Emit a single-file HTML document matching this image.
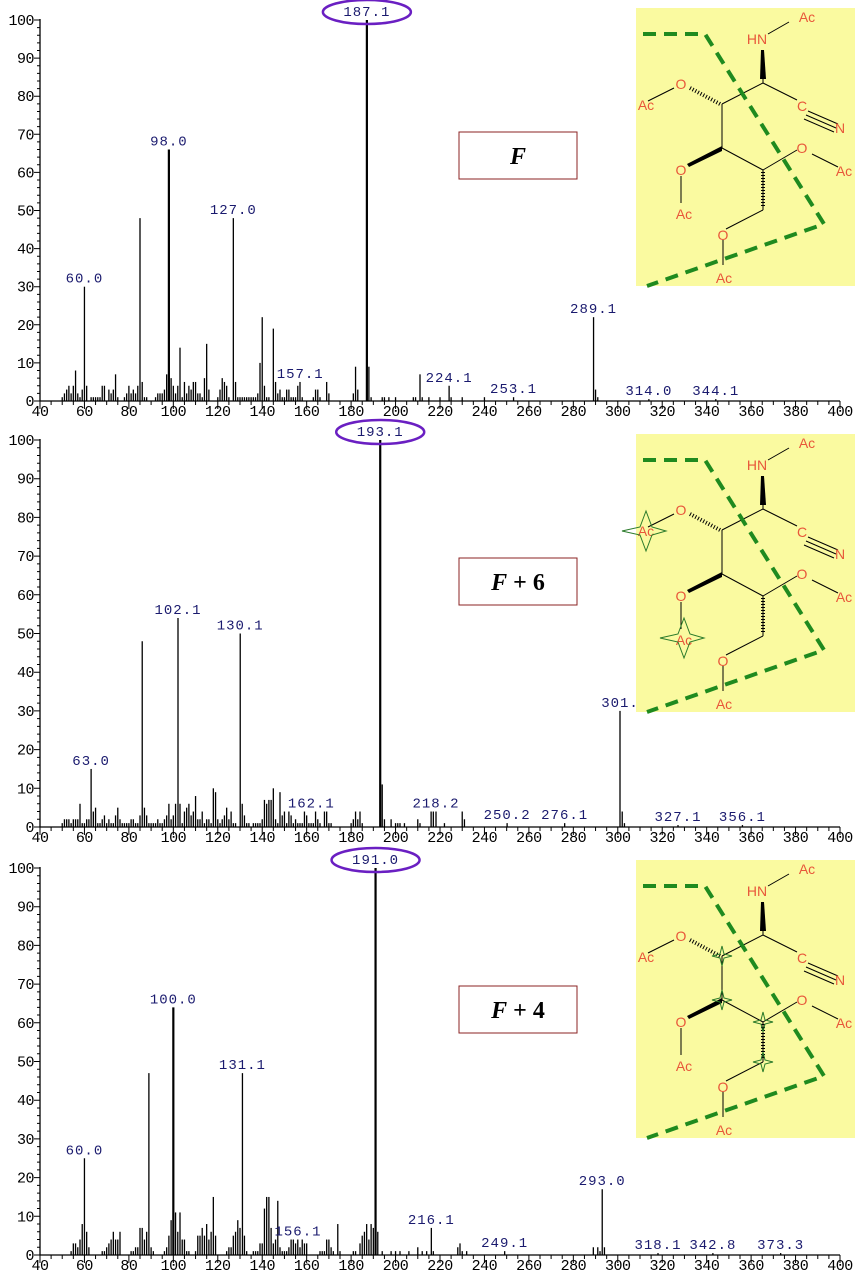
<!DOCTYPE html>
<html><head><meta charset="utf-8">
<style>
html,body{margin:0;padding:0;background:#fff;}
svg{display:block;}
.tk{font-family:"Liberation Mono",monospace;font-size:15px;fill:#000;letter-spacing:-0.5px;}
.pl{font-family:"Liberation Mono",monospace;font-size:14px;fill:#1a1a6e;letter-spacing:1px;}
.at{font-family:"Liberation Sans",sans-serif;font-size:14px;fill:#e8573a;}
</style></head>
<body>
<svg id="chart" width="865" height="1280" viewBox="0 0 865 1280" xmlns="http://www.w3.org/2000/svg"></svg>
<script>
// ---- data ----
const xTicks = [40,60,80,100,120,140,160,180,200,220,240,260,280,300,320,340,360,380,400];
const yTicks = [0,10,20,30,40,50,60,70,80,90,100];
const panelNames = ["F","F + 6","F + 4"];
// panel 1 peaks [m/z, intensity]
const peaksF = [[50,1],[51,2],[52,3],[53,4],[54,2],[55,4],[56,8],[57,2],[58,1],[59,3],[60,30],[61,4],[63,1],[64,1],[65,1],[66,1],[67,1],[68,4],[69,4],[71,3],[72,2],[73,3],[74,7],[75,1],[78,1],[79,2],[80,4],[81,2],[82,3],[83,2],[84,4],[85,48],[86,5],[87,1],[88,1],[92,1],[93,2],[94,2],[95,2],[96,3],[97,7],[98,66],[99,6],[100,4],[101,2],[102,4],[103,14],[104,1],[105,5],[106,2],[107,4],[108,3],[109,5],[110,5],[111,2],[112,2],[113,1],[114,6],[115,15],[116,3],[120,1],[121,3],[122,6],[123,5],[124,4],[125,1],[127,48],[128,5],[129,1],[130,1],[131,1],[132,1],[133,1],[134,1],[135,1],[136,1],[137,1],[138,2],[139,10],[140,22],[141,4],[142,1],[143,1],[145,19],[146,5],[147,2],[148,3],[149,1],[150,1],[151,3],[152,3],[153,1],[154,1],[155,1],[156,4],[157,5],[158,1],[163,1],[164,3],[165,3],[166,1],[169,5],[170,2],[181,2],[182,9],[183,3],[187.1,100],[188,9],[189,1],[194,1],[195,1],[197,1],[200,1],[208,1],[209,1],[211,7],[212,1],[215,1],[220,1],[224.1,4],[225,1],[230,1],[240,1],[253.1,1],[289.1,22],[290,3],[291,1],[314,0.5],[344.1,0.5]];
const labelsF = [[60,"60.0",30],[98,"98.0",66],[127,"127.0",48],[157.1,"157.1",5],[187.1,"187.1",100],[224.1,"224.1",4],[253.1,"253.1",1],[289.1,"289.1",22],[314,"314.0",0.5],[344.1,"344.1",0.5]];
const peaksF6 = [[50,1],[51,2],[52,2],[53,2],[54,1],[55,2],[56,2],[57,2],[58,6],[59,1],[60,1],[61,2],[62,2],[63,15],[64,4],[65,5],[66,1],[67,1],[68,2],[69,3],[70,1],[71,2],[72,1],[73,1],[74,3],[75,5],[76,2],[77,1],[78,1],[79,1],[80,1],[81,2],[82,2],[83,1],[84,1],[85,3],[86,48],[87,5],[88,3],[89,1],[90,1],[91,1],[92,1],[93,2],[94,1],[95,1],[96,2],[97,3],[98,6],[99,2],[100,3],[101,6],[102.1,54],[103,6],[104,1],[105,4],[106,5],[107,6],[108,3],[109,4],[110,8],[111,2],[112,2],[113,4],[114,1],[115,2],[116,2],[117,1],[118,10],[119,9],[120,2],[121,1],[122,2],[123,3],[124,5],[125,2],[126,4],[127,1],[128,1],[130.1,50],[131,6],[132,3],[133,1],[134,1],[136,1],[137,1],[138,1],[139,1],[140,2],[141,7],[142,6],[143,7],[144,7],[145,10],[146,2],[147,1],[148,9],[149,3],[150,4],[151,1],[152,4],[153,3],[154,1],[155,2],[156,1],[157,1],[158,1],[159,4],[160,3],[161,1],[162,1],[163,1],[164,4],[165,2],[166,1],[168,4],[169,4],[170,1],[171,1],[180,1],[181,2],[182,4],[183,2],[184,4],[185,1],[193.1,100],[194,11],[195,2],[198,2],[200,1],[201,1],[202,1],[204,1],[210,2],[211,1],[216,4],[217,4],[218.2,4],[222,1],[230,4],[231,2],[250.2,1],[276.1,1],[301,30],[302,4],[303,1],[327.1,0.5],[356.1,0.5]];
const labelsF6 = [[63,"63.0",15],[102.1,"102.1",54],[130.1,"130.1",50],[162.1,"162.1",4],[193.1,"193.1",100],[218.2,"218.2",4],[250.2,"250.2",1],[276.1,"276.1",1],[301,"301.",30],[327.1,"327.1",0.5],[356.1,"356.1",0.5]];
const peaksF4 = [[54,1],[55,3],[56,3],[57,2],[58,4],[59,8],[60,25],[61,6],[62,2],[68,1],[69,1],[70,2],[71,3],[72,4],[73,6],[74,4],[75,4],[76,6],[81,1],[82,1],[83,2],[84,2],[85,7],[86,7],[87,4],[88,6],[89,47],[90,2],[91,1],[96,1],[97,2],[98,5],[99,9],[100,64],[101,11],[102,6],[103,11],[104,4],[105,4],[106,1],[107,1],[110,1],[111,5],[112,5],[113,7],[114,5],[115,8],[116,4],[117,6],[118,15],[119,5],[124,1],[125,2],[126,2],[127,5],[128,6],[129,9],[130,7],[131.1,47],[132,5],[133,1],[136,1],[137,1],[138,1],[139,3],[140,3],[141,12],[142,15],[143,15],[144,7],[145,3],[146,4],[147,14],[148,2],[149,1],[150,1],[151,1],[152,2],[153,4],[154,4],[155,3],[156,4],[157,2],[158,4],[159,3],[160,3],[166,1],[167,1],[168,1],[169,4],[170,4],[171,2],[172,1],[174,8],[175,1],[181,1],[182,1],[184,3],[185,5],[186,6],[187,8],[188,4],[189,8],[190,7],[191,100],[192,6],[194,1],[198,1],[200,1],[202,1],[206,1],[210,2],[212,1],[214,1],[216.1,7],[217,1],[228,2],[229,3],[230,1],[232,1],[249.1,1],[289,2],[291,2],[292,1],[293,17],[294,2],[318.1,0.5],[342.8,0.5],[373.3,0.5]];
const labelsF4 = [[60,"60.0",25],[100,"100.0",64],[131.1,"131.1",47],[156.1,"156.1",4],[191,"191.0",100],[216.1,"216.1",7],[249.1,"249.1",1],[293,"293.0",17],[318.1,"318.1",0.5],[342.8,"342.8",0.5],[373.3,"373.3",0.5]];
const panelPeaks = [peaksF, peaksF6, peaksF4];
const panelLabels = [labelsF, labelsF6, labelsF4];
const basePeaks = [187.1, 193.1, 191];

const NS = "http://www.w3.org/2000/svg";
const svg = document.getElementById("chart");
function mk(tag, attrs, parent){const e=document.createElementNS(NS,tag);for(const k in attrs)e.setAttribute(k,attrs[k]);(parent||svg).appendChild(e);return e;}

const X0=40, X1=840, MZ0=40, MZ1=400;
const panels=[{top:20,bot:401},{top:440,bot:827},{top:868,bot:1255}];
function xs(mz){return X0+(mz-MZ0)*(X1-X0)/(MZ1-MZ0);}

panels.forEach((p,pi)=>{
  const ys=v=>p.bot-v*(p.bot-p.top)/100;
  const g=mk("g",{});
  
  
  const ax=mk("path",{d:`M${X0} ${p.top-1}V${p.bot}H${X1}`,stroke:"#000","stroke-width":1.3,fill:"none"},g);
  
  
  let d="";
  for(let v=0;v<=100;v+=2){const y=ys(v);d+=`M${X0-(v%10==0?6:3)} ${y}H${X0}`;}
  for(let m=MZ0;m<=MZ1;m+=5){const x=xs(m);d+=`M${x} ${p.bot}V${p.bot+(m%20==0?8:4)}`;}
  const tk=mk("path",{d:d,stroke:"#000","stroke-width":1},g);
  
  
  yTicks.forEach(v=>{const t=mk("text",{x:34,y:ys(v)+5,"text-anchor":"end",class:"tk"},g);t.textContent=v;
    
    });
  xTicks.forEach(v=>{const t=mk("text",{x:xs(v),y:p.bot+15,"text-anchor":"middle",class:"tk"},g);t.textContent=v;
    
    });
  panelPeaks[pi].forEach(pk=>{
    const l=mk("line",{x1:xs(pk[0]),x2:xs(pk[0]),y1:p.bot,y2:ys(pk[1]),stroke:"#000","stroke-width":pk[1]>=60?2.2:1.3},g);
    
    
  });
  panelLabels[pi].forEach(lb=>{
    const t=mk("text",{x:xs(lb[0]),y:ys(lb[2])-4,"text-anchor":"middle",class:"pl"},g);
    t.textContent=lb[1];
    
    
  });
  const bp=basePeaks[pi];
  const el=mk("ellipse",{cx:xs(bp),cy:p.top-8,rx:44,ry:12,fill:"none",stroke:"#6a1fc2","stroke-width":2.5},g);
  
  
  const bt=[132,558,986][pi];
  const r=mk("rect",{x:459,y:bt,width:118,height:47,fill:"#fff",stroke:"#8b2323","stroke-width":1},g);
  
  
  const tt=mk("text",{x:518,y:bt+32,"text-anchor":"middle","font-family":"Liberation Serif, serif","font-size":24,"font-weight":"bold",fill:"#000"},g);
  
  
  const parts=panelNames[pi].split(" + ");
  const ts=mk("tspan",{"font-style":"italic"},tt);ts.textContent=parts[0];
  if(parts[1]){const t2=mk("tspan",{},tt);t2.textContent=" + "+parts[1];}
  const dy=[0,426,852][pi];
  const s=mk("g",{transform:`translate(0,${dy})`},g);
  
  
  mk("rect",{x:636,y:8,width:219,height:278,fill:"#fafaa0"},s);
  const bonds="M763 83L763 56M768 34L789 22M763 83L722 104M763 83L797 100M808 111L838 124M806 115L836 128M804 119L834 132M722 104L722 148M722 148L763 170M763 170L797 150M812 154L838 167M763 170L763 210M763 210L726 229M723 240L723 265M681 176L681 203M674 88L648 101";
  mk("path",{d:bonds,stroke:"#000","stroke-width":1,fill:"none"},s);
  mk("path",{d:"M760 79L766 79L764 50L761 50Z",fill:"#000"},s);
  mk("path",{d:"M722 146L722 151L689 167L687 164Z",fill:"#000"},s);
  mk("path",{d:"M720 104L690 88",stroke:"#000","stroke-width":4,"stroke-dasharray":"1 2",fill:"none"},s);
  mk("path",{d:"M763 172L763 206",stroke:"#000","stroke-width":4,"stroke-dasharray":"1 2",fill:"none"},s);
  const atoms=[[807,22,"Ac"],[757,44,"HN"],[681,89,"O"],[646,110,"Ac"],[802,111,"C"],[840,133,"N"],[681,175,"O"],[684,219,"Ac"],[802,153,"O"],[844,176,"Ac"],[723,240,"O"],[724,283,"Ac"]];
  atoms.forEach(a=>{const t=mk("text",{x:a[0],y:a[1],"text-anchor":"middle",class:"at"},s);t.textContent=a[2];});
  if(pi==1){[[646,105],[684,212]].forEach(c=>mk("path",{d:`M${c[0]-24} ${c[1]}L${c[0]-6} ${c[1]-4}L${c[0]} ${c[1]-20}L${c[0]+6} ${c[1]-4}L${c[0]+20} ${c[1]}L${c[0]+6} ${c[1]+4}L${c[0]} ${c[1]+20}L${c[0]-6} ${c[1]+4}Z`,fill:"none",stroke:"#2a7a2a","stroke-width":1},s));}
  if(pi==2){[[722,104],[722,148],[763,170],[763,210]].forEach(c=>mk("path",{d:`M${c[0]-10} ${c[1]}L${c[0]-2} ${c[1]-2}L${c[0]} ${c[1]-10}L${c[0]+2} ${c[1]-2}L${c[0]+10} ${c[1]}L${c[0]+2} ${c[1]+2}L${c[0]} ${c[1]+10}L${c[0]-2} ${c[1]+2}Z`,fill:"none",stroke:"#2a7a2a","stroke-width":1},s));}
  mk("path",{d:"M643 34H705L824 224L647 286",stroke:"#1f8a1f","stroke-width":4,"stroke-dasharray":"13 8",fill:"none"},s);
});
</script>
</body></html>
